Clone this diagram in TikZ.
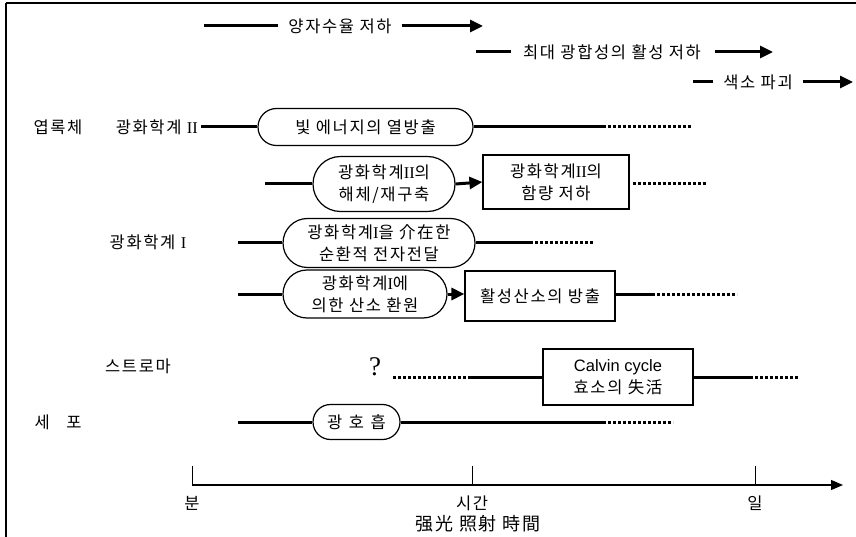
\documentclass[tikz,border=0pt]{standalone}
\usepackage{fontspec}
\setmainfont{Liberation Serif}
\newfontfamily\kr[LetterSpace=10]{Noto Sans CJK KR}
\newfontfamily\arialf{Liberation Sans}
\usetikzlibrary{arrows.meta,shapes.misc}
\tikzset{
  thk/.style={line width=3pt},
  dotl/.style={line width=3pt, dash pattern=on 3pt off 2pt},
  arr/.style={line width=3pt, -{Triangle[length=13pt,width=12pt]}},
  krtext/.style={font=\kr\fontsize{16.5}{20}\selectfont, inner sep=0pt},
  rnode/.style={rounded rectangle, draw, line width=1.2pt, align=center,
    font=\kr\fontsize{16.5}{22}\selectfont, inner sep=0pt},
  bnode/.style={rectangle, draw, line width=1.2pt, align=center,
    font=\kr\fontsize{16.5}{22}\selectfont, inner sep=0pt},
}
\begin{document}
\begin{tikzpicture}[x=1pt,y=-1pt]
\useasboundingbox (0,0) rectangle (856,537);
% frame
\draw[line width=1.3pt] (6,3) -- (856,3);
\draw[line width=1.3pt] (6,3) -- (6,537);

% top arrows
\node[krtext] (t1) at (340,26) {양자수율 저하};
\coordinate (t1a) at (204,26);
\coordinate (t1b) at (483,26);
\draw[thk] (t1a) -- ([xshift=-10pt]t1.west);
\draw[arr] ([xshift=10pt]t1.east) -- (t1b);

\node[krtext] (t2) at (612,52) {최대 광합성의 활성 저하};
\coordinate (t2a) at (476,52);
\coordinate (t2b) at (773,52);
\draw[thk] (t2a) -- ([xshift=-12pt]t2.west);
\draw[arr] ([xshift=14pt]t2.east) -- (t2b);

\node[krtext] (t3) at (758,82) {색소 파괴};
\coordinate (t3a) at (693,82);
\coordinate (t3b) at (853,82);
\draw[thk] (t3a) -- ([xshift=-10pt]t3.west);
\draw[arr] ([xshift=10pt]t3.east) -- (t3b);

% left labels
\node[krtext] (lchl) at (58,127) {엽록체};
\node[krtext, anchor=east] (lps2) at (198,127) {광화학계 {\rmfamily II}};
\node[krtext] (lps1) at (148,242) {광화학계 {\rmfamily I}};
\node[krtext] (lstr) at (138,366) {스트로마};
\node[krtext] (lcell) at (58,422) {세\hspace{1em}포};

% PSII row
\node[rnode, minimum width=215pt, minimum height=37pt] (n1) at (365.5,127) {빛 에너지의 열방출};
\coordinate (n1a) at (201,127);
\coordinate (n1b) at (603,127);
\coordinate (n1c) at (692,127);
\draw[thk] (n1a) -- (n1.west);
\draw[thk] (n1.east) -- (n1b);
\draw[dotl] (n1b) -- (n1c);

% PSII disassembly row
\node[rnode, minimum width=142pt, minimum height=55pt] (n2) at (384,184) {광화학계{\rmfamily II}의\\해체/재구축};
\node[bnode, minimum width=146pt, minimum height=54pt] (b2) at (556,182) {광화학계{\rmfamily II}의\\함량 저하};
\coordinate (n2a) at (265,184);
\coordinate (b2a) at (633,184);
\coordinate (b2b) at (707,184);
\draw[thk] (n2a) -- (n2.west);
\draw[arr] (n2.east) -- (b2.west);
\draw[dotl] (b2a) -- (b2b);

% PSI cyclic row
\node[rnode, minimum width=192pt, minimum height=49pt] (n3) at (379,243) {광화학계{\rmfamily I}을 介在한\\순환적 전자전달};
\coordinate (n3a) at (238,243);
\coordinate (n3b) at (530,243);
\coordinate (n3c) at (593,243);
\draw[thk] (n3a) -- (n3.west);
\draw[thk] (n3.east) -- (n3b);
\draw[dotl] (n3b) -- (n3c);

% PSI O2 reduction row
\node[rnode, minimum width=164pt, minimum height=48pt] (n4) at (365,294) {광화학계{\rmfamily I}에\\의한 산소 환원};
\node[bnode, minimum width=150pt, minimum height=50pt] (b4) at (540,296) {활성산소의 방출};
\coordinate (n4a) at (238,294);
\coordinate (b4b) at (652,294);
\coordinate (b4c) at (737,294);
\draw[thk] (n4a) -- (n4.west);
\draw[arr] (n4.east) -- (b4.west |- n4.east);
\draw[thk] (b4.east |- b4b) -- (b4b);
\draw[dotl] (b4b) -- (b4c);

% stroma row
\node[font=\rmfamily\fontsize{27}{27}\selectfont, inner sep=0pt] (q) at (375,367) {?};
\node[bnode, minimum width=150pt, minimum height=56pt, font=\fontsize{16.5}{22}\selectfont] (cal) at (618,377) {{\arialf Calvin cycle}\\{\kr 효소의 失活}};
\coordinate (qa) at (393,377);
\coordinate (qb) at (470,377);
\coordinate (cb) at (750,377);
\coordinate (cc) at (798,377);
\draw[dotl] (qa) -- (qb);
\draw[thk] (qb) -- (cal.west);
\draw[thk] (cal.east) -- (cb);
\draw[dotl] (cb) -- (cc);

% cell row
\node[rnode, minimum width=87pt, minimum height=35pt] (n5) at (356.5,422) {광\hspace{0.4em}호\hspace{0.4em}흡};
\coordinate (n5a) at (238,422);
\coordinate (n5b) at (603,422);
\coordinate (n5c) at (673,422);
\draw[thk] (n5a) -- (n5.west);
\draw[thk] (n5.east) -- (n5b);
\draw[dotl] (n5b) -- (n5c);

% time axis
\coordinate (ax0) at (192,485);
\coordinate (ax1) at (843,485);
\coordinate (tk1) at (192,466);
\coordinate (tk2) at (472,466);
\coordinate (tk3) at (755,466);
\draw[line width=1.2pt, -{Triangle[length=12pt,width=10pt]}] (ax0) -- (ax1);
\draw[line width=1pt] (tk1) -- (tk1 |- ax0);
\draw[line width=1pt] (tk2) -- (tk2 |- ax0);
\draw[line width=1pt] (tk3) -- (tk3 |- ax0);
\node[krtext] (lb1) at (192,503) {분};
\node[krtext] (lb2) at (472,503) {시간};
\node[krtext] (lb3) at (755,503) {일};
\node[krtext, font=\kr\fontsize{18}{20}\selectfont] (ttl) at (478,524) {强光 照射 時間};
\end{tikzpicture}
\end{document}
